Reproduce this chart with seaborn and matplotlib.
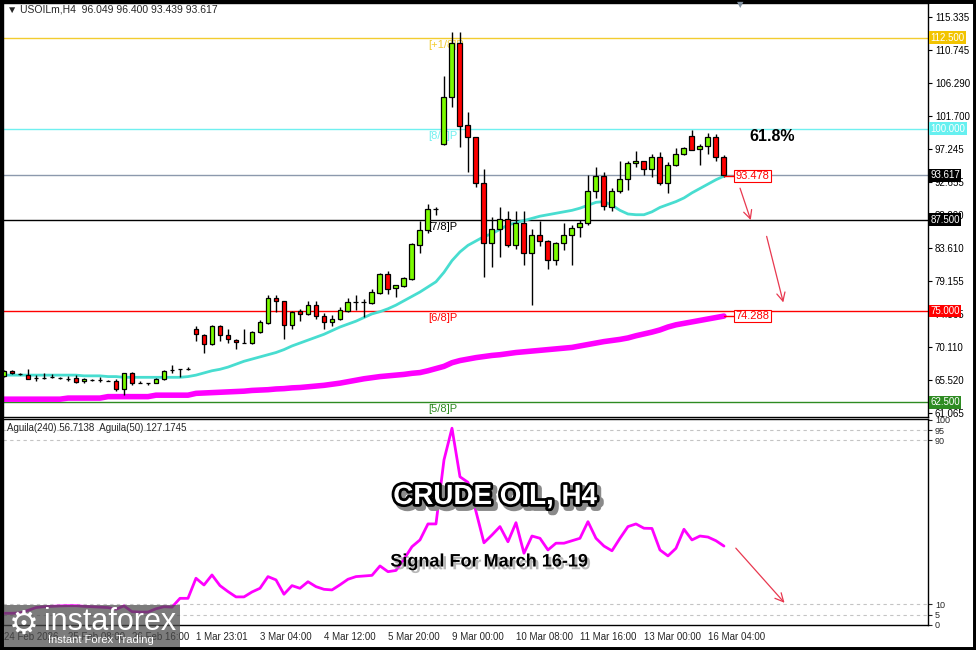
import numpy as np
import pandas as pd
import matplotlib
matplotlib.use("Agg")
import matplotlib.pyplot as plt
import matplotlib.patheffects as pe
from matplotlib.patches import Rectangle
from matplotlib.transforms import blended_transform_factory
import seaborn as sns

# H4 candles (USOILm)
opens = [66.12, 66.77, 66.40, 66.26, 65.83, 65.81, 65.99, 65.81, 65.71, 65.81,
         65.35, 65.53, 65.53, 65.44, 65.35, 64.26, 66.45, 65.17, 65.08, 65.17,
         65.63, 66.90, 67.00, 67.08, 72.57, 71.75, 70.47, 72.94, 71.66, 71.02,
         70.65, 70.57, 72.12, 73.40, 76.78, 76.33, 73.04, 74.96, 74.59, 75.86,
         74.31, 73.49, 73.86, 75.04, 76.23, 76.23, 76.14, 77.42, 80.07, 78.15,
         78.43, 79.43, 84.09, 86.11, 88.97, 97.90, 104.39, 111.71, 100.47, 98.82,
         92.59, 84.28, 86.29, 87.66, 84.09, 87.03, 82.91, 85.38, 84.64, 81.99,
         84.28, 85.38, 86.48, 87.03, 91.41, 93.51, 89.30, 91.50, 93.10, 95.30,
         95.57, 94.47, 96.12, 92.55, 95.02, 96.53, 99.00, 97.17, 97.63, 98.86,
         96.049]
highs = [66.90, 66.90, 66.53, 67.00, 66.18, 66.45, 66.35, 65.99, 66.08, 66.26,
         65.81, 65.62, 65.90, 65.53, 65.71, 66.53, 66.63, 65.44, 65.17, 65.81,
         66.90, 67.63, 67.08, 67.27, 72.94, 71.84, 73.04, 73.04, 72.57, 71.20,
         72.49, 72.21, 73.76, 77.23, 77.15, 76.41, 74.96, 75.23, 76.33, 76.41,
         74.68, 74.49, 75.50, 76.78, 77.15, 76.68, 77.97, 80.25, 80.52, 78.60,
         79.62, 84.28, 87.30, 89.67, 89.30, 107.23, 113.20, 113.20, 102.29, 98.90,
         94.43, 87.93, 89.22, 88.75, 88.75, 88.75, 86.20, 87.38, 84.80, 84.40,
         87.03, 86.75, 87.48, 93.61, 94.71, 94.06, 91.87, 95.53, 95.53, 96.90,
         95.60, 96.53, 96.80, 95.43, 97.35, 97.45, 99.82, 97.90, 99.45, 99.27,
         96.400]
lows = [66.00, 66.36, 66.18, 65.63, 65.44, 65.73, 65.81, 65.63, 65.35, 65.17,
        65.08, 65.44, 65.26, 65.35, 64.07, 63.52, 64.81, 65.08, 64.81, 65.08,
        65.53, 66.53, 65.99, 66.90, 70.92, 69.20, 70.38, 70.84, 70.57, 69.83,
        70.57, 70.50, 72.00, 73.21, 74.86, 71.20, 72.57, 73.67, 74.50, 73.86,
        72.57, 72.94, 73.70, 74.90, 75.13, 74.13, 76.00, 77.30, 77.33, 76.96,
        78.30, 79.30, 82.91, 85.65, 88.10, 97.81, 102.93, 97.53, 94.06, 92.05,
        79.62, 81.07, 82.44, 83.82, 83.54, 81.35, 75.86, 83.91, 80.80, 81.35,
        83.36, 81.35, 85.11, 86.75, 90.50, 88.85, 88.75, 91.22, 91.60, 94.79,
        93.61, 93.42, 92.24, 91.22, 94.90, 96.40, 97.04, 95.06, 96.53, 95.53,
        93.439]
closes = [66.77, 66.45, 66.35, 65.71, 65.80, 65.80, 65.97, 65.80, 65.70, 65.26,
          65.71, 65.52, 65.52, 65.43, 64.26, 66.45, 65.17, 65.16, 65.07, 65.63,
          66.72, 66.89, 66.99, 67.07, 71.84, 70.47, 72.94, 71.66, 71.11, 70.75,
          70.64, 72.12, 73.49, 76.78, 76.33, 73.04, 74.86, 74.59, 75.86, 74.31,
          73.49, 73.94, 75.13, 76.23, 76.22, 76.22, 77.60, 80.07, 78.06, 78.52,
          79.52, 84.19, 86.11, 89.03, 88.96, 104.39, 111.71, 100.37, 98.82, 92.59,
          84.28, 86.29, 87.66, 84.09, 87.03, 82.91, 85.38, 84.56, 81.99, 84.36,
          85.46, 86.38, 87.03, 91.41, 93.51, 89.40, 91.50, 93.10, 95.30, 95.57,
          94.47, 96.12, 92.55, 95.02, 96.53, 97.35, 97.08, 97.63, 98.86, 96.08,
          93.617]

# cyan moving average
ma_fast = [66.2, 66.2, 66.2, 66.2, 66.2, 66.2, 66.2, 66.2, 66.2, 66.2,
           66.1, 66.1, 66.1, 66.0, 66.0, 65.9, 65.9, 65.9, 65.9, 65.9,
           65.9, 65.9, 65.9, 66.0, 66.2, 66.5, 66.8, 67.0, 67.3, 67.7,
           68.1, 68.4, 68.7, 69.0, 69.3, 69.7, 70.2, 70.6, 71.0, 71.4,
           71.8, 72.3, 72.8, 73.2, 73.6, 74.1, 74.6, 74.9, 75.3, 75.8,
           76.4, 77.0, 77.6, 78.3, 79.0, 80.3, 81.9, 83.1, 84.0, 84.6,
           85.2, 85.6, 86.2, 86.8, 87.1, 87.4, 87.7, 88.0, 88.2, 88.4,
           88.6, 88.8, 89.1, 89.5, 89.9, 90.0, 89.5, 88.8, 88.3, 88.2,
           88.2, 88.6, 89.2, 89.6, 90.0, 90.5, 91.2, 91.8, 92.4, 93.0,
           93.5]
# magenta thick moving average
ma_slow = [62.9, 62.9, 62.9, 62.9, 62.9, 62.9, 62.9, 62.9, 63.05, 63.05,
           63.05, 63.05, 63.05, 63.25, 63.25, 63.25, 63.25, 63.25, 63.25, 63.45,
           63.45, 63.45, 63.45, 63.45, 63.7, 63.75, 63.8, 63.85, 63.9, 63.95,
           64.0, 64.1, 64.15, 64.2, 64.3, 64.35, 64.45, 64.5, 64.6, 64.7,
           64.8, 64.95, 65.1, 65.3, 65.5, 65.7, 65.85, 66.0, 66.1, 66.2,
           66.3, 66.45, 66.55, 66.8, 67.1, 67.4, 67.9, 68.2, 68.4, 68.6,
           68.75, 68.9, 69.0, 69.15, 69.3, 69.4, 69.5, 69.6, 69.7, 69.8,
           69.9, 70.0, 70.2, 70.4, 70.6, 70.8, 70.95, 71.1, 71.3, 71.6,
           71.85, 72.1, 72.4, 72.8, 73.1, 73.3, 73.5, 73.7, 73.9, 74.1,
           74.3]
# Aguila oscillator (lower panel)
aguila = [5.6, 5.6, 5.8, 7.0, 8.4, 8.8, 9.0, 9.2, 9.3, 9.3,
          9.0, 8.8, 8.6, 8.4, 7.6, 9.2, 6.4, 6.2, 6.2, 7.8,
          8.8, 8.6, 12.9, 12.9, 22.7, 19.4, 24.3, 19.1, 16.2, 13.6,
          13.6, 16.0, 17.8, 23.5, 21.9, 14.9, 19.1, 17.8, 21.0, 18.6,
          17.3, 17.0, 19.5, 22.2, 23.5, 23.8, 24.1, 28.7, 25.9, 26.5,
          32.0, 38.1, 41.4, 49.2, 49.2, 80.4, 95.9, 72.2, 69.5, 55.3,
          40.0, 43.8, 47.9, 40.5, 49.8, 34.9, 43.3, 42.2, 36.5, 39.8,
          39.8, 41.0, 42.2, 50.3, 42.2, 38.4, 36.1, 42.2, 47.9, 49.2,
          47.1, 47.0, 36.5, 33.6, 37.3, 46.6, 41.4, 43.3, 42.8, 41.0,
          38.4]

time_labels = ["24 Feb 2026", "25 Feb 08:00", "26 Feb 16:00", "1 Mar 23:01",
               "3 Mar 04:00", "4 Mar 12:00", "5 Mar 20:00", "9 Mar 00:00",
               "10 Mar 08:00", "11 Mar 16:00", "13 Mar 00:00", "16 Mar 04:00"]
price_ticks = [115.335, 110.745, 106.290, 101.700, 97.245, 92.655, 88.200,
               83.610, 79.155, 74.565, 70.110, 65.520, 61.065]
murrey_levels = [112.5, 100.0, 87.5, 75.0, 62.5]
murrey_names = ["[+1/8]P", "[8/8]P", "[7/8]P", "[6/8]P", "[5/8]P"]
murrey_colors = ["#f2cc30", "#70f0f0", "black", "#ff0000", "#2e8b22"]
box_colors = ["#f2c400", "#66f0f0", "black", "#ff0000", "#2e8b22"]
bid = 93.617
ma_fast_last = 93.478
ma_slow_last = 74.288
osc_levels = [95, 90, 10, 5]
osc_ticks = [0, 5, 10, 90, 95, 100]

sns.set_style("white")
plt.rcParams["font.family"] = ["Liberation Sans", "DejaVu Sans"]

df = pd.DataFrame({"bar": np.arange(len(opens)), "open": opens, "high": highs,
                   "low": lows, "close": closes, "ma_fast": ma_fast,
                   "ma_slow": ma_slow, "aguila": aguila})
n = len(df)

fig = plt.figure(figsize=(9.76, 6.5), dpi=100)
ax = fig.add_axes([0.00307, 0.3585, 0.9477, 0.6369])
ax2 = fig.add_axes([0.00307, 0.0385, 0.9477, 0.3169])

# levels
for lev, col in zip(murrey_levels, murrey_colors):
    ax.axhline(lev, color=col, lw=1, zorder=1)
ax.axhline(bid, color="#8c99ad", lw=1, zorder=1)
for lev, name, col in zip(murrey_levels, murrey_names, murrey_colors):
    ax.text(53, lev - 0.3, name, color=col, fontsize=8, va="top", ha="left", zorder=2)

# moving averages
sns.lineplot(data=df, x="bar", y="ma_slow", color="#ff00ff", lw=4, ax=ax, zorder=2)
sns.lineplot(data=df, x="bar", y="ma_fast", color="#48ddd0", lw=2, ax=ax, zorder=2)

# candles
up = df["close"] >= df["open"]
ax.vlines(df["bar"], df["low"], df["high"], color="black", lw=1, zorder=4)
body_up = (df["close"] - df["open"])[up].clip(lower=0.02)
body_dn = (df["open"] - df["close"])[~up].clip(lower=0.02)
ax.bar(df["bar"][up], body_up, bottom=df["open"][up], width=0.62,
       color="#7cfc00", edgecolor="black", lw=0.9, zorder=5)
ax.bar(df["bar"][~up], body_dn, bottom=df["close"][~up], width=0.62,
       color="#ff0000", edgecolor="black", lw=0.9, zorder=5)

ax.set_xlim(-0.125, 115.5)
ax.set_ylim(60.46, 117.24)
ax.set_xlabel("")
ax.set_ylabel("")
ax.yaxis.tick_right()
ax.set_yticks(price_ticks)
ax.set_yticklabels([f"{v:.3f}" for v in price_ticks])
ax.tick_params(axis="y", direction="out", length=3, labelsize=7, pad=2, colors="black")
ax.tick_params(axis="x", bottom=False, labelbottom=False)
for s in ax.spines.values():
    s.set_color("black")
    s.set_linewidth(1)

trans = blended_transform_factory(ax.transAxes, ax.transData)
for lev, col in zip(murrey_levels, box_colors):
    ax.text(1.0025, lev, f"{lev:.3f}", transform=trans, fontsize=7, color="white",
            va="center", ha="left", clip_on=False, zorder=10,
            bbox=dict(boxstyle="square,pad=0.15", fc=col, ec="none"))
ax.text(1.0025, bid, f"{bid:.3f}", transform=trans, fontsize=7, color="white",
        va="center", ha="left", clip_on=False, zorder=10,
        bbox=dict(boxstyle="square,pad=0.15", fc="black", ec="none"))

# end-of-line value tags
for val in [ma_fast_last, ma_slow_last]:
    ax.plot([n - 1, n + 0.4], [val, val], color="red", lw=1, zorder=6)
    ax.text(n + 0.45, val, f"{val:.3f}", color="red", fontsize=8, va="center",
            ha="left", zorder=7,
            bbox=dict(boxstyle="square,pad=0.1", fc="white", ec="red", lw=0.8))

arrow_kw = dict(arrowstyle="->,head_length=0.6,head_width=0.3", color="#e8384f", lw=0.9)
ax.annotate("", xy=(93.46, 87.1), xytext=(91.9, 92.2), arrowprops=arrow_kw)
ax.annotate("", xy=(97.5, 75.8), xytext=(95.25, 85.6), arrowprops=arrow_kw)
ax.text(96.0, 98.9, "61.8%", fontsize=11.5, fontweight="bold", color="black",
        ha="center", va="center")

# lower panel: Aguila
for lev in osc_levels:
    ax2.axhline(lev, color="#c4c4c4", lw=0.8, ls=(0, (3, 3)), zorder=1)
sns.lineplot(data=df, x="bar", y="aguila", color="#ff00ff", lw=2, ax=ax2, zorder=3)
ax2.set_xlim(-0.125, 115.5)
ax2.set_ylim(-0.1, 100.4)
ax2.set_xlabel("")
ax2.set_ylabel("")
ax2.yaxis.tick_right()
ax2.set_yticks(osc_ticks)
ax2.set_yticklabels([str(t) for t in osc_ticks])
ax2.tick_params(axis="y", direction="out", length=3, labelsize=6.5, pad=2)
ax2.set_xticks(np.arange(0, 8 * len(time_labels), 8))
ax2.set_xticklabels(time_labels, ha="left")
ax2.tick_params(axis="x", direction="out", length=3, labelsize=7, pad=2)
for s in ax2.spines.values():
    s.set_color("black")
    s.set_linewidth(1)
ax2.annotate("", xy=(97.8, 9.7), xytext=(91.25, 38.4), arrowprops=arrow_kw)

# header texts
fig.text(7 / 976, 1 - 10 / 650, "\u25bc USOILm,H4  96.049 96.400 93.439 93.617",
         fontsize=7.5, va="center", ha="left")
fig.text(7 / 976, 1 - 428 / 650, "Aguila(240) 56.7138  Aguila(50) 127.1745",
         fontsize=7, va="center", ha="left")
fig.text(740 / 976, 1 - 5 / 650, "\u25bc", color="#8090a0", fontsize=6,
         va="center", ha="center", family="DejaVu Sans", zorder=25)

fig.text(495 / 976, 1 - 497 / 650, "CRUDE OIL, H4", fontsize=20, fontweight="bold",
         color="white", ha="center", va="center",
         path_effects=[pe.Stroke(offset=(2.5, -2.5), linewidth=5, foreground="#8a8a8a"),
                       pe.Stroke(linewidth=4, foreground="black"), pe.Normal()])
fig.text(489 / 976, 1 - 562 / 650, "Signal For March 16-19", fontsize=13,
         fontweight="bold", color="black", ha="center", va="center",
         path_effects=[pe.withSimplePatchShadow(offset=(2, -2), shadow_rgbFace="#9a9a9a",
                                                alpha=0.7)])

# watermark
fig.patches.append(Rectangle((0, 0), 180 / 976, 45 / 650, transform=fig.transFigure,
                             fc="#4a4a4a", alpha=0.72, ec="none", zorder=5))
fig.text(24 / 976, 1 - 624 / 650, "\u2699", color="white", fontsize=24, ha="center",
         va="center", family="DejaVu Sans", zorder=6)
fig.text(44 / 976, 1 - 622 / 650, "instaforex", color="white", fontsize=22,
         ha="left", va="center", zorder=6)
fig.text(48 / 976, 1 - 640 / 650, "Instant Forex Trading", color="white", fontsize=8,
         ha="left", va="center", zorder=6)

# outer black frame
fig.patches.append(Rectangle((0, 0), 1, 1, transform=fig.transFigure, fill=False,
                             ec="black", lw=5, zorder=20))

fig.savefig("out.png", dpi=100, facecolor="white")
